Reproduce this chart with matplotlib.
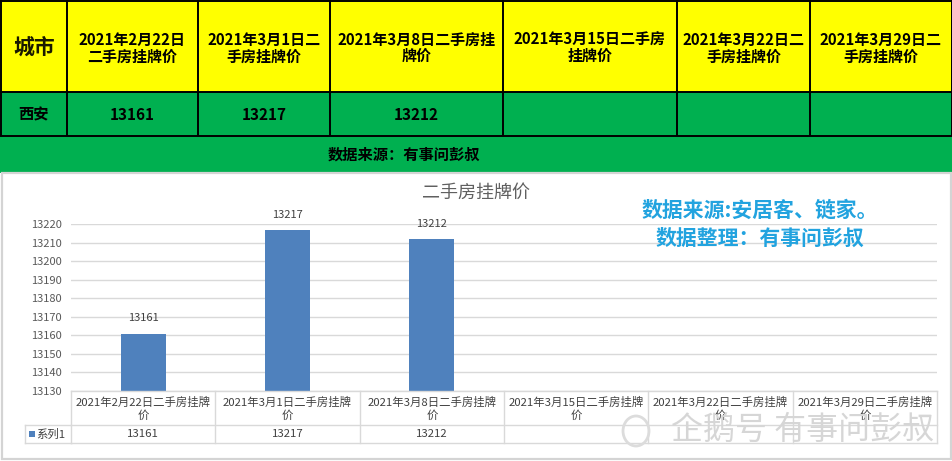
import matplotlib
matplotlib.use('Agg')
import matplotlib.pyplot as plt
from matplotlib.patches import Rectangle, Ellipse
from matplotlib.transforms import blended_transform_factory

plt.rcParams['font.family'] = ['Noto Sans CJK SC', 'DejaVu Sans']

# ---------------- data ----------------
city = '西安'
dates = ['2021年2月22日', '2021年3月1日', '2021年3月8日',
         '2021年3月15日', '2021年3月22日', '2021年3月29日']
prices = [13161, 13217, 13212, None, None, None]
header_labels = ['2021年2月22日\n二手房挂牌价', '2021年3月1日二\n手房挂牌价',
                 '2021年3月8日二手房挂\n牌价', '2021年3月15日二手房\n挂牌价',
                 '2021年3月22日二\n手房挂牌价', '2021年3月29日二\n手房挂牌价']
axis_labels = [d + '二手房挂牌\n价' for d in dates]
yticks = list(range(13130, 13221, 10))
series_name = '系列1'
chart_title = '二手房挂牌价'
source_band = '数据来源：有事问彭叔'
note_lines = ['数据来源:安居客、链家。', '数据整理：有事问彭叔']
watermark = '企鹅号 有事问彭叔'

# ---------------- layout ----------------
W, H = 953, 461
fig = plt.figure(figsize=(W / 100, H / 100), dpi=100)
fig.patch.set_facecolor('white')
ov = fig.add_axes([0, 0, 1, 1], zorder=0)
ov.set_xlim(0, W)
ov.set_ylim(H, 0)
ov.axis('off')

YELLOW = '#FFFF00'
GREEN = '#00B050'
col_edges = [0.8, 67, 198, 330, 503, 677, 810, 952]
hdr_top, hdr_bot, row_bot, band_bot = 0.8, 92, 136, 173

# top table
ov.add_patch(Rectangle((0, 0), 953, hdr_bot, facecolor=YELLOW, edgecolor='none'))
ov.add_patch(Rectangle((0, hdr_bot), 953, row_bot - hdr_bot, facecolor=GREEN, edgecolor='none'))
ov.add_patch(Rectangle((0, row_bot), 953, band_bot - row_bot, facecolor=GREEN, edgecolor='none'))
for y in (hdr_top, hdr_bot, row_bot):
    ov.plot([0, col_edges[-1]], [y, y], color='black', lw=1.4, solid_capstyle='butt')
for x in col_edges:
    ov.plot([x, x], [0, row_bot], color='black', lw=1.4, solid_capstyle='butt')

ov.text((col_edges[0] + col_edges[1]) / 2, 47, '城市', ha='center', va='center',
        fontsize=15, fontweight='bold', color='#1a1a00')
ov.text((col_edges[0] + col_edges[1]) / 2, 114, city, ha='center', va='center',
        fontsize=11, fontweight='bold', color='black')
for i, lab in enumerate(header_labels):
    cx = (col_edges[i + 1] + col_edges[i + 2]) / 2
    ov.text(cx, 48, lab, ha='center', va='center', fontsize=10.8,
            fontweight='bold', color='black', linespacing=1.05)
    if prices[i] is not None:
        ov.text(cx, 115, f'{prices[i]}', ha='center', va='center', fontsize=11,
                fontweight='bold', color='black')
ov.text(404, 155, source_band, ha='center', va='center', fontsize=11,
        fontweight='bold', color='black')

# chart area
ov.add_patch(Rectangle((2, band_bot), 949, 459 - band_bot, facecolor='white',
                       edgecolor='#d4d4d4', lw=1.6))

# ---------------- bar chart ----------------
px_left, px_right, px_top, px_bot = 71, 937, 224.3, 391
ax = fig.add_axes([px_left / W, (H - px_bot) / H, (px_right - px_left) / W,
                   (px_bot - px_top) / H], zorder=1)
ax.set_facecolor('none')
xs = list(range(len(dates)))
bx = [x for x, v in zip(xs, prices) if v is not None]
bv = [v for v in prices if v is not None]
bars = ax.bar(bx, bv, width=0.31, color='#4F81BD', zorder=2)
for x, v in zip(bx, bv):
    ax.annotate(f'{v}', (x, v), xytext=(0, 11), textcoords='offset points',
                ha='center', va='center', fontsize=8, color='#404040',
                annotation_clip=False)
ax.set_xlim(-0.5, len(dates) - 0.5)
ax.set_ylim(yticks[0], yticks[-1])
ax.set_yticks(yticks)
ax.set_yticklabels([str(t) for t in yticks])
ax.tick_params(axis='y', length=0, pad=6.5, labelsize=8, labelcolor='#595959')
ax.set_xticks([])
ax.grid(axis='y', color='#d9d9d9', lw=1.0, zorder=0)
ax.set_axisbelow(True)
for s in ('top', 'right', 'left'):
    ax.spines[s].set_visible(False)
ax.spines['bottom'].set_color('#d9d9d9')
ax.spines['bottom'].set_linewidth(1.0)

fig.text(476 / W, 1 - 193 / H, chart_title, ha='center', va='center',
         fontsize=13, fontweight='light', color='#606060')
for k, line in enumerate(note_lines):
    fig.text(760 / W, 1 - (210 + 28 * k) / H, line, ha='center', va='center',
             fontsize=15, fontweight='bold', color='#22A3DF')

# ---------------- data table under chart ----------------
bt = blended_transform_factory(ax.transData, ov.transData)
grid_c = '#d9d9d9'
tab_top, tab_mid, tab_bot = px_bot, 425, 443
ov.plot([-0.5, len(dates) - 0.5], [tab_mid, tab_mid], color=grid_c, lw=1.0, transform=bt)
ov.plot([-0.5, len(dates) - 0.5], [tab_bot, tab_bot], color=grid_c, lw=1.0, transform=bt)
for k in range(len(dates) + 1):
    ov.plot([k - 0.5, k - 0.5], [tab_top, tab_bot], color=grid_c, lw=1.0, transform=bt)
for i, lab in enumerate(axis_labels):
    ov.text(i, 408.5, lab, ha='center', va='center', fontsize=8.2, color='#404040',
            linespacing=1.3, transform=bt)
    if prices[i] is not None:
        ov.text(i, 434, f'{prices[i]}', ha='center', va='center', fontsize=8.2,
                color='#404040', transform=bt)
# legend cell
ov.plot([25, 71], [tab_mid, tab_mid], color=grid_c, lw=1.0)
ov.plot([25, 71], [tab_bot, tab_bot], color=grid_c, lw=1.0)
ov.plot([25, 25], [tab_mid, tab_bot], color=grid_c, lw=1.0)
ov.add_patch(Rectangle((29.5, 431), 5.5, 5.5, facecolor='#4F81BD', edgecolor='none'))
ov.text(36, 434, series_name, ha='left', va='center', fontsize=8.2, color='#404040')

# watermark (penguin-ish icon + text)
fig.patches.append(Ellipse((636 / W, 1 - 431 / H), 26 / W, 30 / H,
                           transform=fig.transFigure, facecolor='none',
                           edgecolor='#dcdcdc', lw=2, zorder=10))
fig.text(803 / W, 1 - 430 / H, watermark, ha='center', va='center', fontsize=23,
         color='#d6d6d6', zorder=10)

fig.savefig('out.png', dpi=100, facecolor='white')
